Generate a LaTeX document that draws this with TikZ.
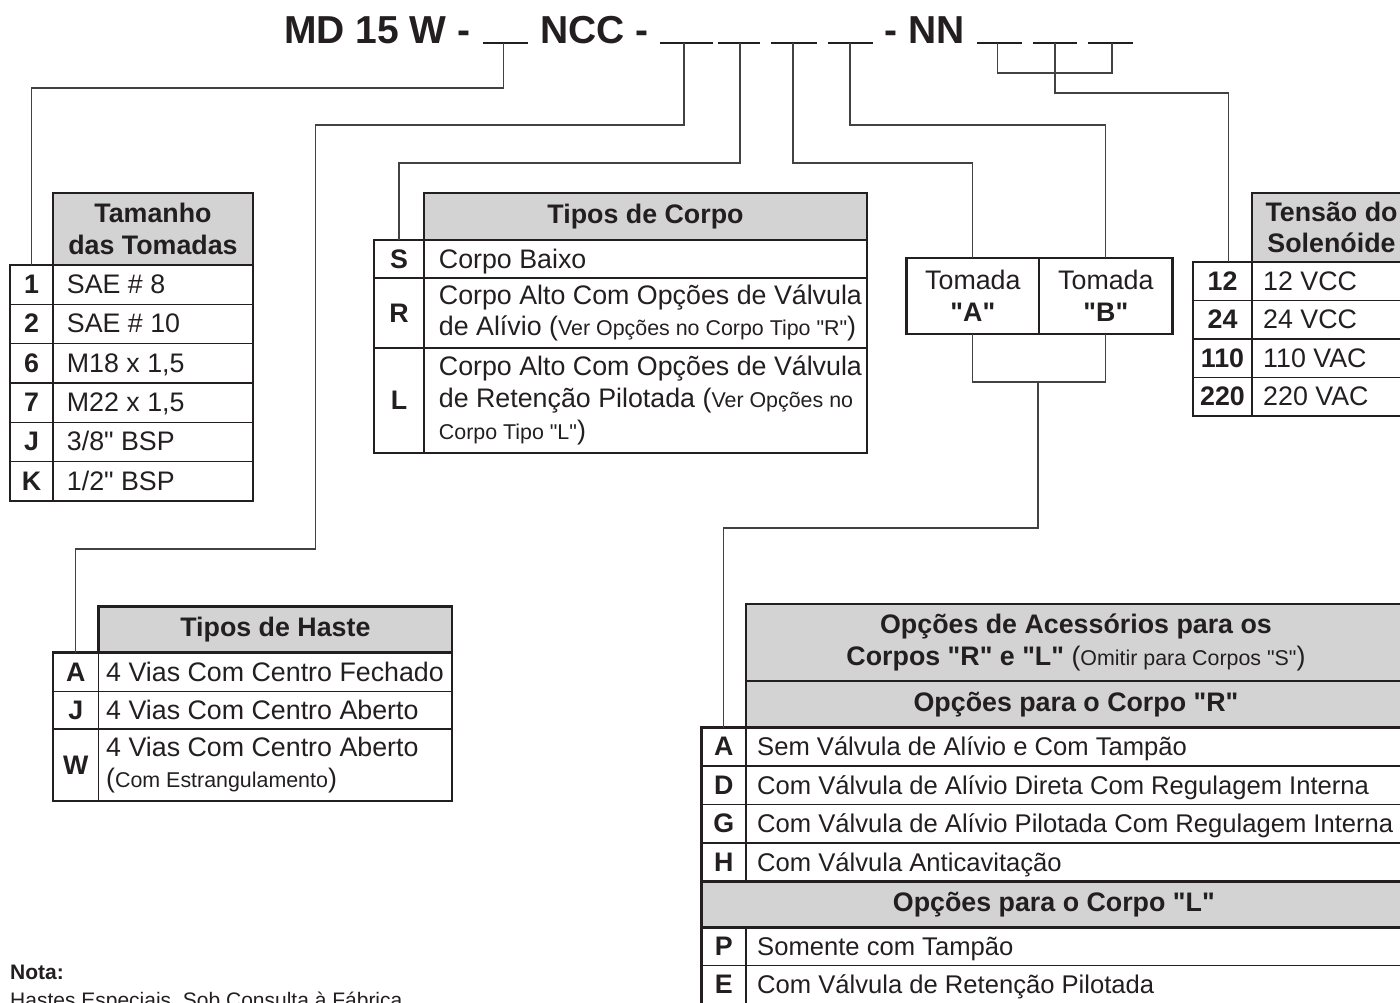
\documentclass[tikz,border=0pt]{standalone}
\usepackage{fontspec}
\setmainfont{Liberation Sans}[Ligatures=TeXOff]
\definecolor{ink}{RGB}{35,31,32}
\definecolor{hdrgray}{RGB}{211,211,211}
\newcommand\bodyfnt{\fontsize{26.8}{31.7}\selectfont}
\newcommand\optfnt{\fontsize{25.6}{31.7}\selectfont}
\newcommand\smfnt{\fontsize{21.4}{31.7}\selectfont}
\newcommand\ttlfnt{\bfseries\fontsize{39}{44}\selectfont}
\tikzset{
  cellbox/.style={draw=ink,line width=1.3pt,inner sep=0pt,outer sep=0pt,anchor=north west},
  hdrbox/.style={cellbox,line width=2.6pt,fill=hdrgray,text=ink,align=center,font=\bfseries\bodyfnt},
  keybox/.style={cellbox,text=ink,font=\bfseries\bodyfnt,text height=20pt,text depth=2pt},
  tombox/.style={cellbox,text=ink,align=center,font=\bodyfnt,minimum height=76},
  valtxt/.style={anchor=west,inner sep=0pt,align=left,text=ink,font=\bodyfnt},
  onel/.style={text height=20pt,text depth=2pt},
  frame/.style={draw=ink,line width=2.6pt},
  leader/.style={draw=ink!85,line width=1.2pt},
  uline/.style={draw=ink,line width=2.4pt},
  ttl/.style={anchor=base west,inner sep=0pt,text=ink,font=\ttlfnt}
}
\begin{document}
\begin{tikzpicture}[x=1pt,y=-1pt]
    \useasboundingbox (0,0) rectangle (1400,1002);
    \clip (0,0) rectangle (1400,1002);

    % code line
    \node[ttl] (ttl1) at (284,43) {MD 15 W -};
    \node[ttl] (ttl2) at (540,43) {NCC -};
    \node[ttl] (ttl3) at (884,43) {- NN};
    \foreach \n/\x/\a/\b in {u1/503.6/483/528, u2/684/660/713, u3/740/718/760, u4/793/771/817,
        u5/850/828/873, u6/997.3/977/1021.7, u7/1055/1032.7/1077.3, u8/1112/1088.3/1133.3} {
        \draw[uline] (\a,43) -- (\b,43);
        \coordinate (\n) at (\x,43);
    }

    % Tamanho das Tomadas
    \node[hdrbox,minimum width=200,minimum height=72] (tamh) at (53,193) {Tamanho\\das Tomadas};
    \foreach \k/\v [count=\i] in {1/SAE \# 8, 2/SAE \# 10, 6/{M18 x 1,5}, 7/{M22 x 1,5}, J/{3/8" BSP}, K/{1/2" BSP}} {
        \node[keybox,minimum width=43,minimum height=39.3] (tamk\k) at (10,{265+(\i-1)*39.3}) {\k};
        \node[cellbox,minimum width=200,minimum height=39.3] (tamv\k) at (53,{265+(\i-1)*39.3}) {};
        \node[valtxt,onel] (tamt\k) at ([xshift=13.7]tamv\k.west) {\v};
    }
    \draw[frame] (tamk1.north west) rectangle (tamvK.south east);

    % Tipos de Corpo
    \node[hdrbox,minimum width=443,minimum height=47] (corh) at (424,193) {Tipos de Corpo};
    \node[keybox,minimum width=50,minimum height=38] (corkS) at (374,240) {S};
    \node[cellbox,minimum width=443,minimum height=38] (corvS) at (424,240) {};
    \node[valtxt,onel] (cortS) at ([xshift=14.7]corvS.west) {Corpo Baixo};
    \node[keybox,minimum width=50,minimum height=70] (corkR) at (374,278) {R};
    \node[cellbox,minimum width=443,minimum height=70] (corvR) at (424,278) {};
    \node[valtxt] (cortR) at ([xshift=14.7]corvR.west) {Corpo Alto Com Opções de Válvula\\de Alívio ({\smfnt Ver Opções no Corpo Tipo "R"})};
    \node[keybox,minimum width=50,minimum height=105] (corkL) at (374,348) {L};
    \node[cellbox,minimum width=443,minimum height=105] (corvL) at (424,348) {};
    \node[valtxt] (cortL) at ([xshift=14.7]corvL.west) {Corpo Alto Com Opções de Válvula\\de Retenção Pilotada ({\smfnt Ver Opções no}\\{\smfnt Corpo Tipo "L"})};
    \draw[frame] (corkS.north west) rectangle (corvL.south east);

    % Tomadas A / B
    \node[tombox,minimum width=132.3] (tomA) at (906.7,258) {Tomada\\\textbf{"A"}};
    \node[tombox,minimum width=133.7] (tomB) at (1039,258) {Tomada\\\textbf{"B"}};
    \draw[frame] (tomA.north west) rectangle (tomB.south east);
    \coordinate (tomj) at (1038,382);

    % Tensao do Solenoide
    \node[hdrbox,minimum width=159,minimum height=69] (tenh) at (1252,193) {Tensão do\\Solenóide};
    \foreach \k/\v [count=\i] in {12/12 VCC, 24/24 VCC, 110/110 VAC, 220/220 VAC} {
        \node[keybox,minimum width=59,minimum height=38.5] (tenk\k) at (1193,{262+(\i-1)*38.5}) {\k};
        \node[cellbox,minimum width=159,minimum height=38.5] (tenv\k) at (1252,{262+(\i-1)*38.5}) {};
        \node[valtxt,onel] (tent\k) at ([xshift=11]tenv\k.west) {\v};
    }
    \draw[frame] (tenk12.north west) rectangle (tenv220.south east);

    % Tipos de Haste
    \node[hdrbox,minimum width=353.3,minimum height=46] (hash) at (98.7,606.7) {Tipos de Haste};
    \foreach \k/\y/\h/\v in {A/652.7/39/4 Vias Com Centro Fechado, J/691.7/37.3/4 Vias Com Centro Aberto} {
        \node[keybox,minimum width=45.7,minimum height=\h] (hask\k) at (53,\y) {\k};
        \node[cellbox,minimum width=353.3,minimum height=\h] (hasv\k) at (98.7,\y) {};
        \node[valtxt,onel] (hast\k) at ([xshift=7.3]hasv\k.west) {\v};
    }
    \node[keybox,minimum width=45.7,minimum height=72] (haskW) at (53,729) {W};
    \node[cellbox,minimum width=353.3,minimum height=72] (hasvW) at (98.7,729) {};
    \node[valtxt] (hastW) at ([xshift=7.3]hasvW.west) {4 Vias Com Centro Aberto\\({\smfnt Com Estrangulamento})};
    \draw[frame] (haskA.north west) rectangle (hasvW.south east);

    % Opcoes de acessorios
    \node[hdrbox,minimum width=660,minimum height=77] (opth1) at (746,604) {Opções de Acessórios para os\\Corpos "R" e "L" {\mdseries({\smfnt Omitir para Corpos "S"})}};
    \node[hdrbox,minimum width=660,minimum height=46.7] (opth2) at (746,681) {Opções para o Corpo "R"};
    \foreach \k/\v [count=\i] in {A/Sem Válvula de Alívio e Com Tampão, D/Com Válvula de Alívio Direta Com Regulagem Interna,
        G/Com Válvula de Alívio Pilotada Com Regulagem Interna, H/Com Válvula Anticavitação} {
        \node[keybox,minimum width=44.3,minimum height=38.4] (optk\k) at (701.7,{727.7+(\i-1)*38.4}) {\k};
        \node[cellbox,minimum width=660,minimum height=38.4] (optv\k) at (746,{727.7+(\i-1)*38.4}) {};
        \node[valtxt,onel,font=\optfnt] (optt\k) at ([xshift=11]optv\k.west) {\v};
    }
    \node[hdrbox,minimum width=704.3,minimum height=46] (opth3) at (701.7,881.3) {Opções para o Corpo "L"};
    \foreach \k/\v [count=\i] in {P/Somente com Tampão, E/Com Válvula de Retenção Pilotada} {
        \node[keybox,minimum width=44.3,minimum height=38.4] (optk\k) at (701.7,{927.3+(\i-1)*38.4}) {\k};
        \node[cellbox,minimum width=660,minimum height=38.4] (optv\k) at (746,{927.3+(\i-1)*38.4}) {};
        \node[valtxt,onel,font=\optfnt] (optt\k) at ([xshift=11]optv\k.west) {\v};
    }
    \draw[frame] (optkA.north west) rectangle (optvE.south east);

    % leaders
    \draw[leader] (u1) -- ++(0,45) -| (tamk1.north);
    \draw[leader] (u2) -- ++(0,82) -| ++(-368.4,424) -| (haskA.north);
    \draw[leader] (u3) -- ++(0,120) -| (corkS.north);
    \draw[leader] (u4) -- ++(0,120) -| (tomA.north);
    \draw[leader] (u5) -- ++(0,82) -| (tomB.north);
    \draw[leader] (tomA.south) -- ++(0,48) -| (tomB.south);
    \draw[leader] (tomj) -- ++(0,146) -| (optkA.north);
    \draw[leader] (u6) -- ++(0,30) -| (u8);
    \draw[leader] (u7) -- ++(0,50) -| ([xshift=6]tenk12.north);

    % nota
    \node[anchor=base west,inner sep=0pt,text=ink,font=\bfseries\fontsize{21}{24}\selectfont] (nota) at (10,979) {Nota:};
    \node[anchor=base west,inner sep=0pt,text=ink,font=\fontsize{21}{24}\selectfont] (notatxt) at (10,1007) {Hastes Especiais,  Sob Consulta à Fábrica};
\end{tikzpicture}
\end{document}
